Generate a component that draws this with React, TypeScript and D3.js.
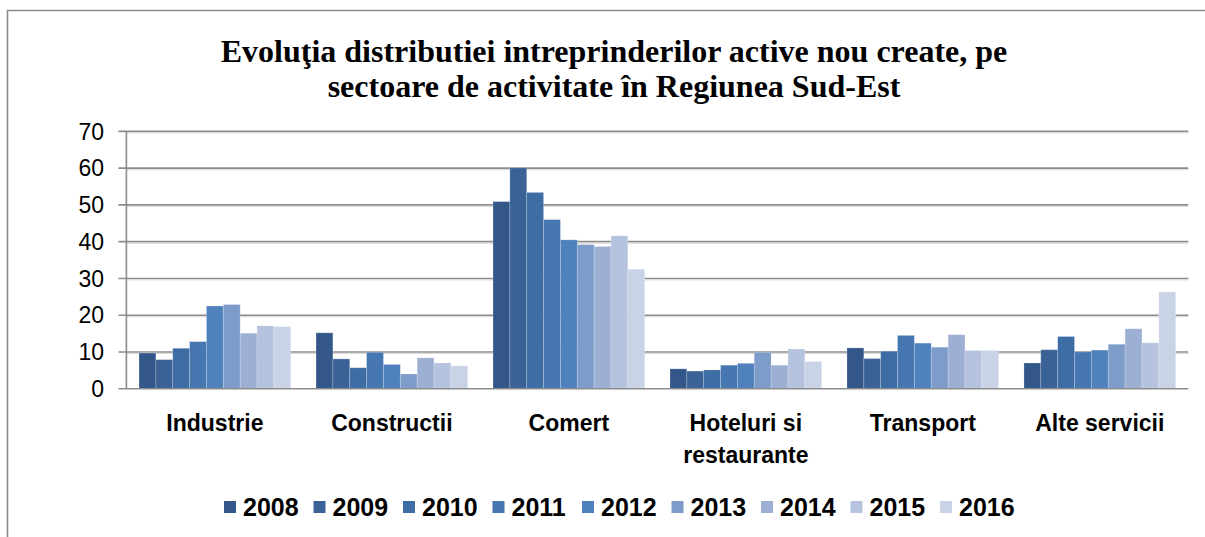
import React, { useEffect, useRef } from "react";
import * as d3 from "d3";

const categories = ["Industrie", "Constructii", "Comert", "Hoteluri si\nrestaurante", "Transport", "Alte servicii"];
const years = ["2008", "2009", "2010", "2011", "2012", "2013", "2014", "2015", "2016"];
const v2008 = [9.7, 15.2, 50.9, 5.4, 11.1, 7.0];
const v2009 = [7.9, 8.1, 60.1, 4.8, 8.2, 10.6];
const v2010 = [11.0, 5.7, 53.4, 5.1, 10.2, 14.2];
const v2011 = [12.8, 9.9, 46.0, 6.4, 14.5, 10.0];
const v2012 = [22.5, 6.6, 40.5, 6.9, 12.4, 10.5];
const v2013 = [22.9, 4.0, 39.2, 9.9, 11.3, 12.1];
const v2014 = [15.1, 8.4, 38.7, 6.4, 14.7, 16.3];
const v2015 = [17.1, 7.0, 41.6, 10.8, 10.4, 12.5];
const v2016 = [16.9, 6.2, 32.5, 7.4, 10.4, 26.3];
const seriesValues = [v2008, v2009, v2010, v2011, v2012, v2013, v2014, v2015, v2016];
const colors = ["#34578A", "#3A6297", "#3E6CA5", "#4677B1", "#4F81BD", "#7D9CC9", "#9DB0D3", "#B6C3DF", "#C9D3E6"];
const yTicks = [0, 10, 20, 30, 40, 50, 60, 70];
const titleLines = ["Evoluţia distributiei intreprinderilor active nou create, pe", "sectoare de activitate în Regiunea Sud-Est"];

export default function App() {
  const ref = useRef<SVGSVGElement>(null);
  useEffect(() => {
    const W = 1205, H = 537;
    const svg = d3.select(ref.current);
    svg.selectAll("*").remove();
    const left = 126.4, right = 1188.3, top = 131.4, bottom = 388.7;

    // border
    svg.append("path").attr("d", `M7.5,${H} L7.5,10.5 L${W},10.5`).attr("fill", "none").attr("stroke", "#8a8a8a").attr("stroke-width", 1.6);

    // title
    titleLines.forEach((t, i) => {
      svg.append("text").attr("x", 614).attr("y", 62 + i * 35).attr("text-anchor", "middle")
        .attr("font-family", "'Liberation Serif', 'Times New Roman', serif").attr("font-weight", "bold")
        .attr("font-size", 32).attr("fill", "#000").text(t);
    });

    const x0 = d3.scaleBand<string>().domain(categories).range([left, right]).paddingInner(1.5 / 10.5).paddingOuter(0.75 / 10.5);
    const x1 = d3.scaleBand<string>().domain(years).range([0, x0.bandwidth()]);
    const y = d3.scaleLinear().domain([0, 70]).range([bottom, top]);

    // gridlines
    yTicks.forEach(t => {
      if (t === 0) return;
      svg.append("line").attr("x1", left - 8).attr("x2", right).attr("y1", y(t)).attr("y2", y(t))
        .attr("stroke", "#8c8c8c").attr("stroke-width", 1.6);
      svg.append("line").attr("x1", left).attr("x2", right).attr("y1", y(t) + 1.5).attr("y2", y(t) + 1.5)
        .attr("stroke", "#d8d8d8").attr("stroke-width", 1);
    });

    // bars
    const g = svg.append("g");
    years.forEach((yr, si) => {
      categories.forEach((c, ci) => {
        const v = seriesValues[si][ci];
        g.append("rect").attr("x", (x0(c) as number) + (x1(yr) as number)).attr("y", y(v))
          .attr("width", x1.bandwidth()).attr("height", y(0) - y(v)).attr("fill", colors[si])
          .attr("stroke", "rgba(255,255,255,0.25)").attr("stroke-width", 0.8);
      });
    });

    // axes lines
    svg.append("line").attr("x1", left).attr("x2", left).attr("y1", top).attr("y2", bottom).attr("stroke", "#8c8c8c").attr("stroke-width", 1.6);
    svg.append("line").attr("x1", left - 8).attr("x2", right).attr("y1", bottom).attr("y2", bottom).attr("stroke", "#8c8c8c").attr("stroke-width", 1.6);

    // y labels
    yTicks.forEach(t => {
      svg.append("text").attr("x", 104).attr("y", y(t)).attr("dy", "0.36em").attr("text-anchor", "end")
        .attr("font-family", "'Liberation Sans', Arial, sans-serif").attr("font-size", 23).attr("fill", "#000").text(t);
    });

    // x labels
    categories.forEach(c => {
      const lines = c.split("\n");
      const t = svg.append("text").attr("text-anchor", "middle")
        .attr("font-family", "'Liberation Sans', Arial, sans-serif").attr("font-weight", "bold").attr("font-size", 23).attr("fill", "#000");
      lines.forEach((l, i) => {
        t.append("tspan").attr("x", (x0(c) as number) + x0.bandwidth() / 2).attr("y", 431 + i * 32).text(l);
      });
    });

    // legend
    years.forEach((yr, i) => {
      const lx = 224 + i * 89.5;
      svg.append("rect").attr("x", lx).attr("y", 501).attr("width", 12).attr("height", 12).attr("fill", colors[i]);
      svg.append("text").attr("x", lx + 19).attr("y", 507).attr("dy", "0.36em")
        .attr("font-family", "'Liberation Sans', Arial, sans-serif").attr("font-weight", "bold").attr("font-size", 25).attr("fill", "#000").text(yr);
    });
  }, []);
  return (
    <svg ref={ref} width={1205} height={537} style={{ position: "absolute", left: 0, top: 0, background: "#fff" }} />
  );
}
